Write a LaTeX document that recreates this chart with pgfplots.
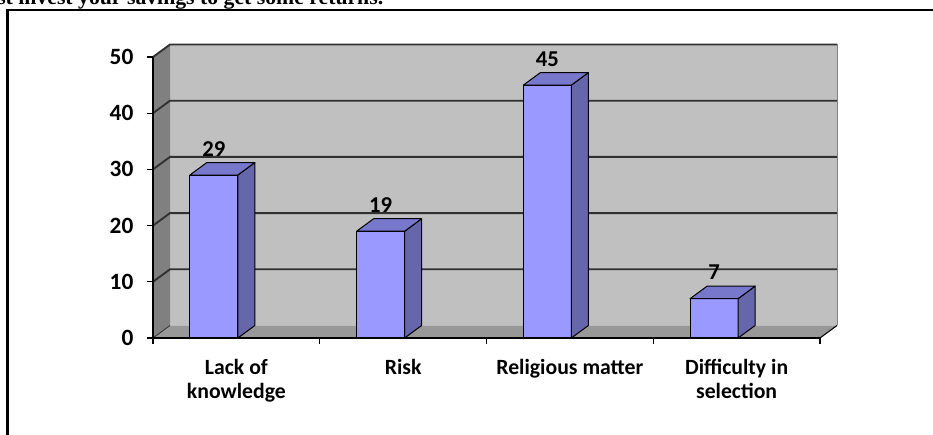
\documentclass[border=0pt]{standalone}
\usepackage{fontspec}
\setmainfont{Carlito}
\newfontfamily\titlefont{Liberation Serif}
\usepackage{pgfplots}
\pgfplotsset{compat=1.18}
\usepackage{pgfplotstable}

\definecolor{wallback}{HTML}{C0C0C0}
\definecolor{wallside}{HTML}{808080}
\definecolor{floorgray}{HTML}{989898}
\definecolor{gridline}{HTML}{303030}
\definecolor{barfront}{HTML}{9999FF}
\definecolor{barside}{HTML}{6666AA}
\definecolor{bartop}{HTML}{7777CC}

\pgfplotstableread{
x v
0 29
1 19
2 45
3 7
}\reasons

% depth of the 3D box and of each column
\def\dx{12.75pt}
\def\dy{9.375pt}
\pgfdeclareplotmark{blank}{}

\begin{document}
\begin{tikzpicture}
\useasboundingbox (0,0) rectangle (699.75pt,326.25pt);
\clip (0,0) rectangle (699.75pt,326.25pt);
\node[anchor=base west, inner sep=0pt, font=\titlefont\bfseries\fontsize{16.3}{19}\selectfont]
  at (-2.25pt,322.5pt) {st invest your savings to get some returns.};
\draw[line width=1.9pt] (5.625pt,-10pt) -- (5.625pt,318.75pt) -- (710pt,318.75pt);

\begin{axis}[
  at={(114.75pt,72.75pt)}, anchor=south west,
  scale only axis, width=500.25pt, height=210.75pt,
  xmin=-0.5, xmax=3.5, ymin=0, ymax=50,
  clip=false, axis on top,
  axis lines=left, axis line style={-, line width=0.8pt},
  ytick={0,10,...,50},
  xtick={0,1,2,3},
  xticklabels={{Lack of\\knowledge},Risk,{Religious matter},{Difficulty in\\selection}},
  minor xtick={-0.5,0.5,1.5,2.5,3.5},
  major x tick style={draw=none},
  tick align=outside,
  major tick length=4.5pt, minor tick length=4.5pt,
  tick style={black, line width=0.8pt},
  /pgf/number format/assume math mode=true,
  xticklabel style={align=center, anchor=north, inner sep=0pt, yshift=-11pt,
    font=\bfseries\fontsize{16.3}{18}\selectfont},
  yticklabel style={anchor=east, inner sep=0pt, xshift=-10pt,
    font=\bfseries\fontsize{17.5}{18}\selectfont},
]
% floor, back wall and side wall
\fill[floorgray] (axis cs:-0.5,0) -- (axis cs:3.5,0)
  -- ([shift={(\dx,\dy)}]axis cs:3.5,0) -- ([shift={(\dx,\dy)}]axis cs:-0.5,0) -- cycle;
\fill[wallback] ([shift={(\dx,\dy)}]axis cs:-0.5,0) rectangle ([shift={(\dx,\dy)}]axis cs:3.5,50);
\fill[wallside] (axis cs:-0.5,0) -- (axis cs:-0.5,50)
  -- ([shift={(\dx,\dy)}]axis cs:-0.5,50) -- ([shift={(\dx,\dy)}]axis cs:-0.5,0) -- cycle;
\draw[gray, line width=0.6pt] ([shift={(\dx,\dy)}]axis cs:3.5,0) -- ([shift={(\dx,\dy)}]axis cs:3.5,50);
\draw[gridline, line width=0.6pt] (axis cs:-0.5,0) -- ([shift={(\dx,\dy)}]axis cs:-0.5,0);
\draw[black, line width=0.8pt] (axis cs:3.5,0) -- ([shift={(\dx,\dy)}]axis cs:3.5,0);
\pgfplotsinvokeforeach{10,20,30,40,50}{
  \draw[gridline, line width=1.4pt] (axis cs:-0.5,#1)
    -- ([shift={(\dx,\dy)}]axis cs:-0.5,#1) -- ([shift={(\dx,\dy)}]axis cs:3.5,#1);
}

% front faces of the columns
\addplot[ybar, bar width=36pt, bar shift=-16.875pt, fill=barfront, draw=black, line width=0.75pt,
  nodes near coords,
  nodes near coords style={anchor=base, inner sep=0pt, yshift=14.25pt, xshift=-16.875pt,
    font=\bfseries\fontsize{17}{18}\selectfont},
] table[x=x, y=v] {\reasons};

% side and top faces of the columns
\addplot[scatter, only marks, mark=blank,
  visualization depends on={rawy \as \barval},
  scatter/@pre marker code/.code={%
    \pgfkeys{/pgf/fpu=false}%
    \pgfmathsetlengthmacro{\barh}{\barval*4.215pt}%
    \filldraw[fill=barside, draw=black, line width=0.75pt, line join=round]
      (1.125pt,0pt) -- ++(\dx,\dy) -- ++(0pt,-\barh) -- ++(-\dx,-\dy) -- cycle;
    \filldraw[fill=bartop, draw=black, line width=0.75pt, line join=round]
      (1.125pt,0pt) -- ++(\dx,\dy) -- ++(-36pt,0pt) -- ++(-\dx,-\dy) -- cycle;
  },
  scatter/@post marker code/.code={},
] table[x=x, y=v] {\reasons};
\end{axis}
\end{tikzpicture}
\end{document}
